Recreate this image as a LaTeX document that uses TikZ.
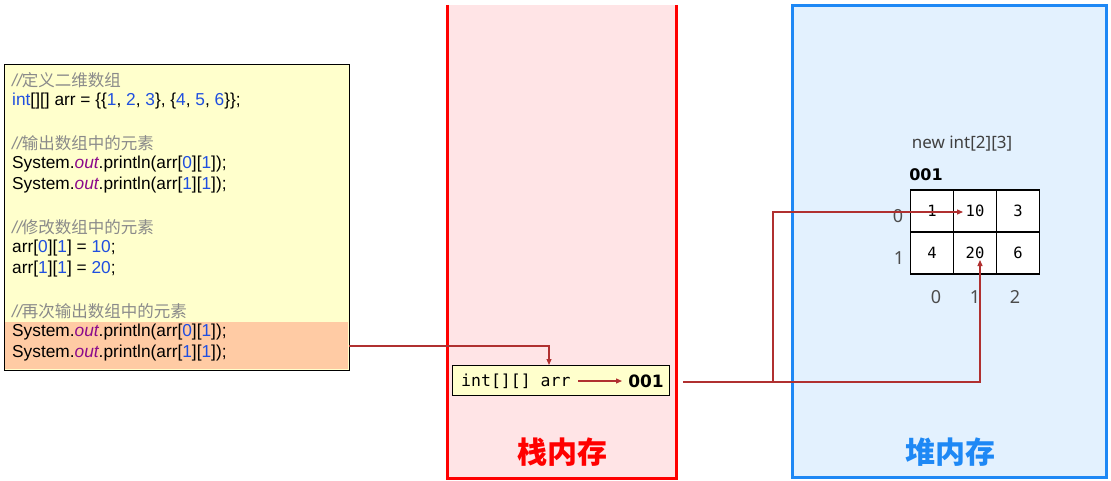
\documentclass[tikz,border=0pt]{standalone}
\usepackage{fontspec}
\setmainfont{Liberation Sans}
\newfontfamily\cjk{Noto Sans CJK SC}
\newfontfamily\monof{DejaVu Sans Mono}
\newfontfamily\nsans{Noto Sans}
\newfontfamily\bsans{DejaVu Sans}
\usetikzlibrary{arrows.meta}
\definecolor{stackfill}{HTML}{FFE4E6}
\definecolor{heapfill}{HTML}{E3F1FE}
\definecolor{heapline}{HTML}{1E88F5}
\definecolor{codefill}{HTML}{FFFFCC}
\definecolor{hl}{HTML}{FFCBA4}
\definecolor{conn}{HTML}{B03030}
\definecolor{kw}{HTML}{1F4FE0}
\definecolor{cm}{HTML}{8A8A8A}
\definecolor{pu}{HTML}{8B0A8B}
\tikzset{
  conn/.style={draw=conn, line width=1.2pt, -{Triangle[length=6pt,width=5pt]}},
  code/.style={anchor=west, inner sep=0, font=\fontsize{17.3}{17}\selectfont},
  cell/.style={draw, line width=1.5pt, fill=white, minimum width=43pt, minimum height=42pt, font=\monof\fontsize{15.5}{15}\selectfont},
  idx/.style={text=black!70, font=\nsans\fontsize{18}{18}\selectfont}
}
\newcommand{\cmt}[1]{\textcolor{cm}{\itshape //\cjk\fontsize{16.5}{17}\selectfont #1}}
\newcommand{\nm}[1]{\textcolor{kw}{#1}}
\newcommand{\outw}{\textcolor{pu}{\itshape out}}
\begin{document}
\begin{tikzpicture}[x=1pt,y=-1pt]
\useasboundingbox (0,0) rectangle (1111,481);
% stack
\fill[stackfill] (447,5) rectangle (676,478);
\draw[red, line width=3pt] (447,5) -- (447,478) -- (676,478) -- (676,5);
\node[text=red, font=\cjk\bfseries\fontsize{30}{30}\selectfont] (stk) at (562,452) {栈内存};
% heap
\draw[heapline, fill=heapfill, line width=3pt] (792,6) rectangle (1106,477);
\node[text=heapline, font=\cjk\bfseries\fontsize{30}{30}\selectfont] (hp) at (950,452) {堆内存};
% code box
\draw[fill=codefill, line width=0.8pt] (4,64) rectangle (349,370);
\fill[hl] (5,322) rectangle (348,369);
\node[code] (c1) at (12,80) {\cmt{定义二维数组}};
\node[code] (c2) at (12,101) {\nm{int}[][] arr = \{\{\nm{1}, \nm{2}, \nm{3}\}, \{\nm{4}, \nm{5}, \nm{6}\}\};};
\node[code] (c3) at (12,143) {\cmt{输出数组中的元素}};
\node[code] (c4) at (12,164) {System.\outw.println(arr[\nm{0}][\nm{1}]);};
\node[code] (c5) at (12,185) {System.\outw.println(arr[\nm{1}][\nm{1}]);};
\node[code] (c6) at (12,227) {\cmt{修改数组中的元素}};
\node[code] (c7) at (12,248) {arr[\nm{0}][\nm{1}] = \nm{10};};
\node[code] (c8) at (12,269) {arr[\nm{1}][\nm{1}] = \nm{20};};
\node[code] (c9) at (12,311) {\cmt{再次输出数组中的元素}};
\node[code] (c10) at (12,332) {System.\outw.println(arr[\nm{0}][\nm{1}]);};
\node[code] (c11) at (12,353) {System.\outw.println(arr[\nm{1}][\nm{1}]);};
\coordinate (cout) at (349,346);
% arr box
\draw[fill=codefill, line width=0.8pt] (452,365) rectangle (669,395);
\node[anchor=west, inner sep=0, font=\monof\fontsize{16.5}{16}\selectfont] (arrv) at (461,381) {int[][] arr};
\node[inner sep=0, font=\bsans\bfseries\fontsize{17}{17}\selectfont] (addr) at (646,381) {001};
\coordinate (a1) at (578,381);
\coordinate (a2) at (622,381);
\draw[conn] (a1) -- (a2);
\coordinate (arrtop) at (549,365);
\draw[conn] (cout) -| (arrtop);
% heap grid
\node[text=black!75, font=\nsans\fontsize{17}{17}\selectfont] (lbl) at (962,144) {new int[2][3]};
\node[font=\bsans\bfseries\fontsize{16}{16}\selectfont] (ad2) at (926,175) {001};
\node[cell] (g00) at (932,211) {1};
\node[cell] (g01) at (975,211) {10};
\node[cell] (g02) at (1018,211) {3};
\node[cell] (g10) at (932,253) {4};
\node[cell] (g11) at (975,253) {20};
\node[cell] (g12) at (1018,253) {6};
\node[idx] (r0) at (898,216) {0};
\node[idx] (r1) at (899,258) {1};
\node[idx] (k0) at (936,297) {0};
\node[idx] (k1) at (975,297) {1};
\node[idx] (k2) at (1015,297) {2};
\coordinate (s) at (683,382);
\coordinate (t1) at (963,212);
\coordinate (t2) at (980,260);
\coordinate (m) at (773,382);
\draw[conn] (s) -| (t2);
\draw[conn] (m) |- (t1);
\end{tikzpicture}
\end{document}
